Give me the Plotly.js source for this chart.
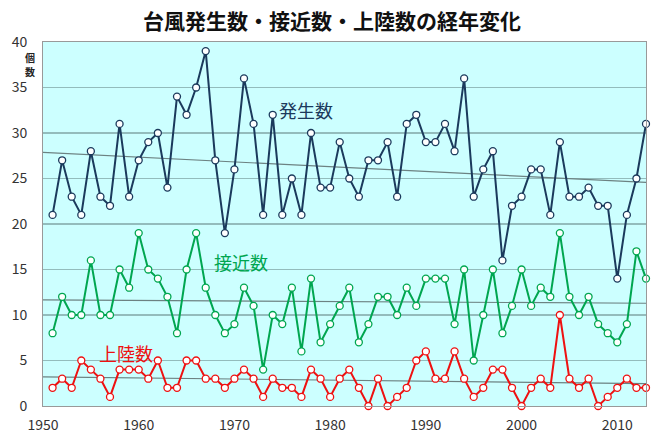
<!DOCTYPE html>
<html><head><meta charset="utf-8">
<script src="https://cdn.plot.ly/plotly-3.0.1.min.js"></script>
<style>html,body{margin:0;padding:0;background:#fff}#chart{width:664px;height:436px}</style>
</head><body><div id="chart"></div>
<script>
const years = [];
for (let y = 1951; y <= 2013; y++) years.push(y);
const formation = [21,27,23,21,28,23,22,31,23,27,29,30,24,34,32,35,39,27,19,26,
  36,31,21,32,21,25,21,30,24,24,29,25,23,27,27,29,23,31,32,29,29,31,28,36,23,26,28,16,22,23,
  26,26,21,29,23,23,24,22,22,14,21,25,31];
const approach = [8,12,10,10,16,10,10,15,13,19,15,14,12,8,15,19,13,10,8,9,
  13,11,4,10,9,13,6,14,7,9,11,13,7,9,12,12,10,13,11,14,14,14,9,15,5,10,15,8,11,15,
  11,13,12,19,12,10,12,9,8,7,9,17,14];
const landfall = [2,3,2,5,4,3,1,4,4,4,3,5,2,2,5,5,3,3,2,3,
  4,3,1,3,2,2,1,4,3,1,3,4,2,0,3,0,1,2,5,6,3,3,6,3,1,2,4,4,2,0,
  2,3,2,10,3,2,3,0,1,2,3,2,2];
const seriesNames = ["発生数","接近数","上陸数"];
const colors = ["#1b3a5c","#00a650","#ee1111"];
const xRange = [1950, 2013];

function trend(xs, ys) {
  const n = xs.length;
  const mx = xs.reduce((a,b)=>a+b,0)/n, my = ys.reduce((a,b)=>a+b,0)/n;
  let sxy=0, sxx=0;
  for (let i=0;i<n;i++){ sxy+=(xs[i]-mx)*(ys[i]-my); sxx+=(xs[i]-mx)**2; }
  const b = sxy/sxx, a = my - b*mx;
  return xRange.map(x => a + b*x);
}

const data = [];
[formation, approach, landfall].forEach((vals, i) => {
  data.push({x: xRange, y: trend(years, vals), mode: 'lines', type: 'scatter',
    line: {color: '#6c8282', width: 1.2}, hoverinfo: 'skip', showlegend: false});
});
[formation, approach, landfall].forEach((vals, i) => {
  data.push({x: years, y: vals, mode: 'lines+markers', type: 'scatter', name: seriesNames[i],
    line: {color: colors[i], width: 2},
    marker: {symbol: 'circle', size: 7, color: '#ffffff', line: {color: colors[i], width: 1.3}},
    showlegend: false, cliponaxis: false});
});

const font = "'Noto Sans CJK JP', 'Noto Sans', sans-serif";
const layout = {
  width: 664, height: 436,
  margin: {l: 43, r: 18, t: 42, b: 30},
  paper_bgcolor: '#ffffff', plot_bgcolor: '#ccffff',
  font: {family: font, color: '#333333', size: 14},
  title: {text: '<b>台風発生数・接近数・上陸数の経年変化</b>', x: 0.5, xanchor: 'center',
    y: 0.95, yanchor: 'middle', font: {family: font, size: 21, color: '#111111'}},
  xaxis: {range: xRange, tick0: 1950, dtick: 10, showgrid: false, zeroline: false,
    showline: true, linecolor: '#999999', linewidth: 1, mirror: true,
    ticks: '', ticklabelstandoff: 6, tickfont: {size: 14, color: '#333333'}, fixedrange: true},
  yaxis: {range: [0, 40], dtick: 5, showgrid: true, gridcolor: '#93bcbc', gridwidth: 1.3,
    zeroline: false, showline: true, linecolor: '#999999', linewidth: 1, mirror: true,
    ticks: '', ticklabelstandoff: 12, tickfont: {size: 14, color: '#333333'}, fixedrange: true},
  annotations: [
    {text: '<b>個</b>', xref: 'paper', yref: 'paper', x: -0.022, y: 0.958,
      xanchor: 'center', yanchor: 'middle', showarrow: false, borderpad: 0,
      font: {size: 10, color: '#222222', family: font}},
    {text: '<b>数</b>', xref: 'paper', yref: 'paper', x: -0.022, y: 0.918,
      xanchor: 'center', yanchor: 'middle', showarrow: false, borderpad: 0,
      font: {size: 10, color: '#222222', family: font}},
    {text: '発生数', x: 1974.4, y: 32.5, xanchor: 'left', yanchor: 'middle', showarrow: false,
      font: {size: 18, color: '#1b3a5c', family: font}},
    {text: '接近数', x: 1967.7, y: 15.8, xanchor: 'left', yanchor: 'middle', showarrow: false,
      font: {size: 18, color: '#00a650', family: font}},
    {text: '上陸数', x: 1955.6, y: 5.8, xanchor: 'left', yanchor: 'middle', showarrow: false,
      font: {size: 18, color: '#ee1111', family: font}}
  ]
};
Plotly.newPlot('chart', data, layout, {displayModeBar: false, staticPlot: true});
</script></body></html>
